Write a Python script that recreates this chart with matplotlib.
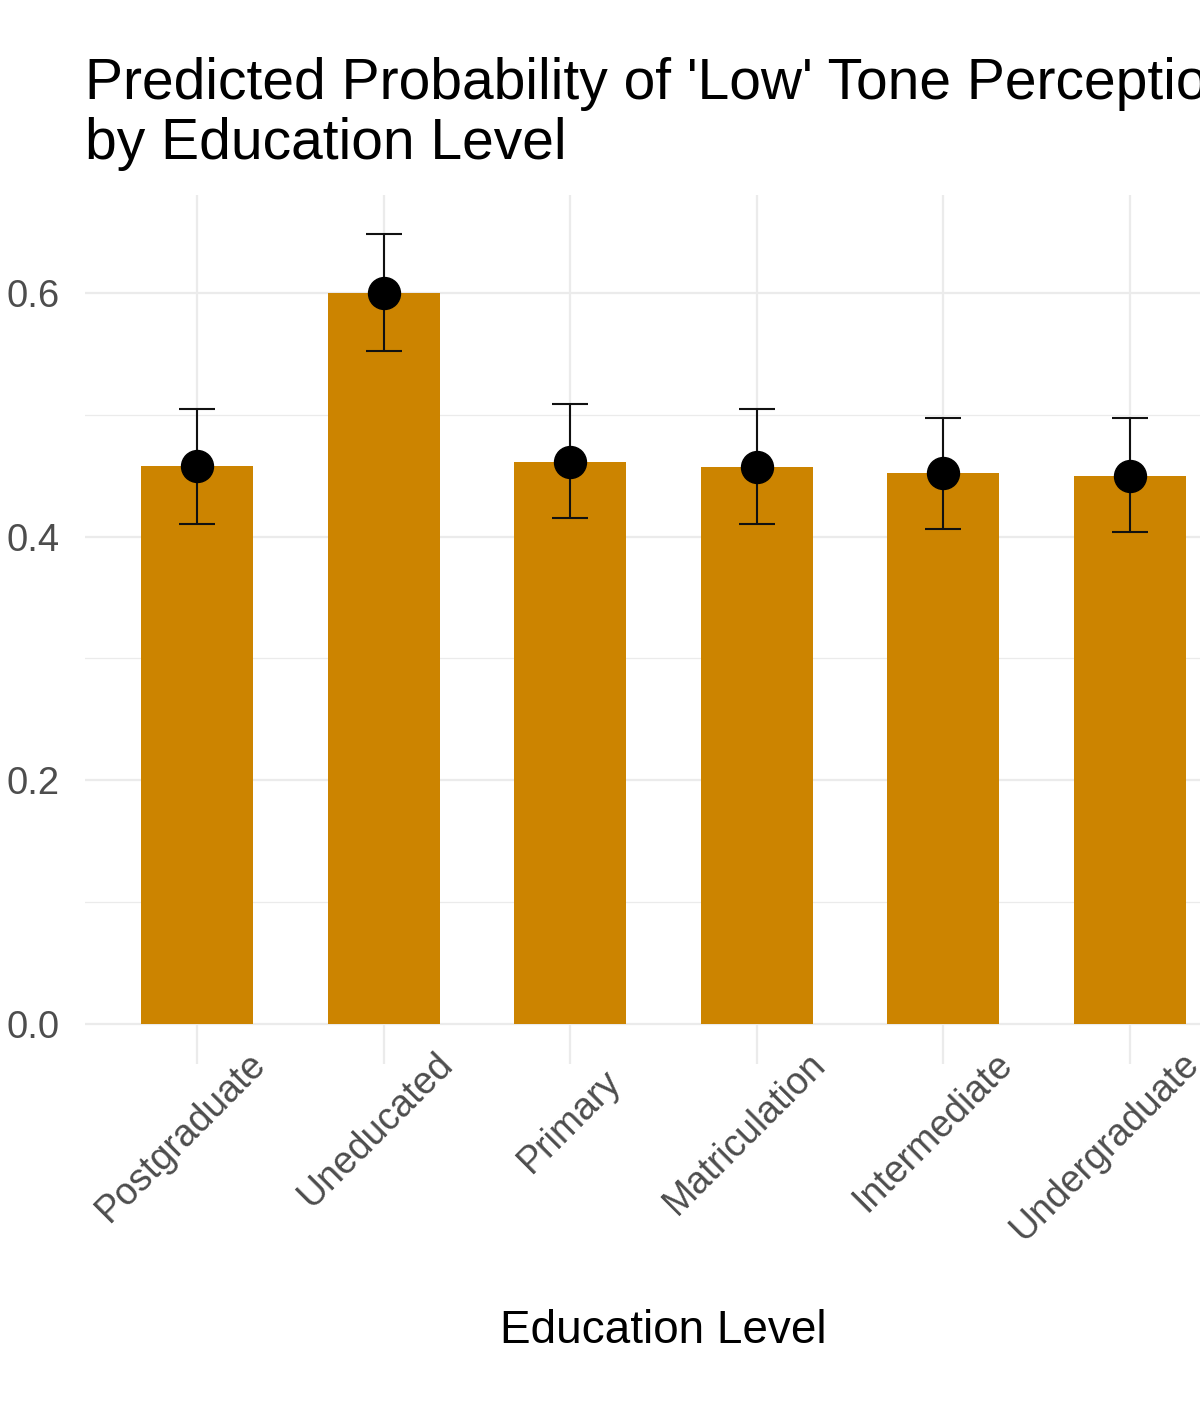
import matplotlib
matplotlib.use("Agg")
import matplotlib.pyplot as plt
import matplotlib.transforms as mtransforms
import numpy as np

categories = ["Postgraduate", "Uneducated", "Primary", "Matriculation", "Intermediate", "Undergraduate"]
prob = [0.458, 0.600, 0.461, 0.457, 0.452, 0.450]
lower = [0.410, 0.552, 0.415, 0.410, 0.406, 0.404]
upper = [0.505, 0.648, 0.509, 0.505, 0.497, 0.497]
y_ticks = [0.0, 0.2, 0.4, 0.6]
y_tick_labels = ["0.0", "0.2", "0.4", "0.6"]
y_minor = [0.1, 0.3, 0.5]
title = "Predicted Probability of 'Low' Tone Perception\nby Education Level"
xlabel = "Education Level"

plt.rcParams['font.family'] = ['Liberation Sans', 'DejaVu Sans']

W, H = 1200, 1410
fig = plt.figure(figsize=(W / 100, H / 100), dpi=100)
left, right, top, bottom = 85, 1242, 195, 1063.5
ax = fig.add_axes([left / W, 1 - bottom / H, (right - left) / W, (bottom - top) / H])

x = np.arange(len(categories))
prob_a = np.array(prob)
lo = prob_a - np.array(lower)
hi = np.array(upper) - prob_a

ax.bar(x, prob, width=0.6, color="#CC8400", zorder=2)
ax.errorbar(x, prob, yerr=[lo, hi], fmt="none", ecolor="#111111", elinewidth=1.5,
            capsize=13.3, capthick=1.5, zorder=3)
ax.plot(x, prob, "o", color="black", markersize=23, zorder=4)

ax.set_xlim(-0.6, len(categories) - 0.4)
ax.set_ylim(-0.0324, 0.6804)

ax.set_yticks(y_ticks)
ax.set_yticklabels(y_tick_labels)
ax.set_yticks(y_minor, minor=True)
ax.set_xticks(x)
ax.set_xticklabels(categories, rotation=45, ha="right", va="center", rotation_mode="anchor")

ax.tick_params(axis="both", which="both", length=0)
ax.tick_params(axis="y", pad=18, labelsize=27.5, labelcolor="#4D4D4D")
ax.tick_params(axis="x", pad=0, labelsize=27, labelcolor="#4D4D4D")

# extra back-shift along the text direction (px) for labels that sit lower in the reference
label_shift = {"Primary": 25}
for lab in ax.get_xticklabels():
    s = label_shift.get(lab.get_text(), 0)
    dx = 63 - s * 0.7071
    dy = 5 - s * 0.7071
    offset = mtransforms.ScaledTranslation(dx / 100, dy / 100, fig.dpi_scale_trans)
    lab.set_transform(lab.get_transform() + offset)

ax.grid(True, which="major", color="#EBEBEB", linewidth=1.6, zorder=0)
ax.grid(True, which="minor", axis="y", color="#EBEBEB", linewidth=0.9, zorder=0)
ax.set_axisbelow(True)
for s in ax.spines.values():
    s.set_visible(False)

fig.text(left / W, 1 - 57 / H, title, fontsize=41, color="black", ha="left", va="top",
         linespacing=1.14)
fig.text(663 / W, 1 - 1331 / H, xlabel, fontsize=33, color="black", ha="center", va="center")

fig.savefig("out.png", dpi=100)
